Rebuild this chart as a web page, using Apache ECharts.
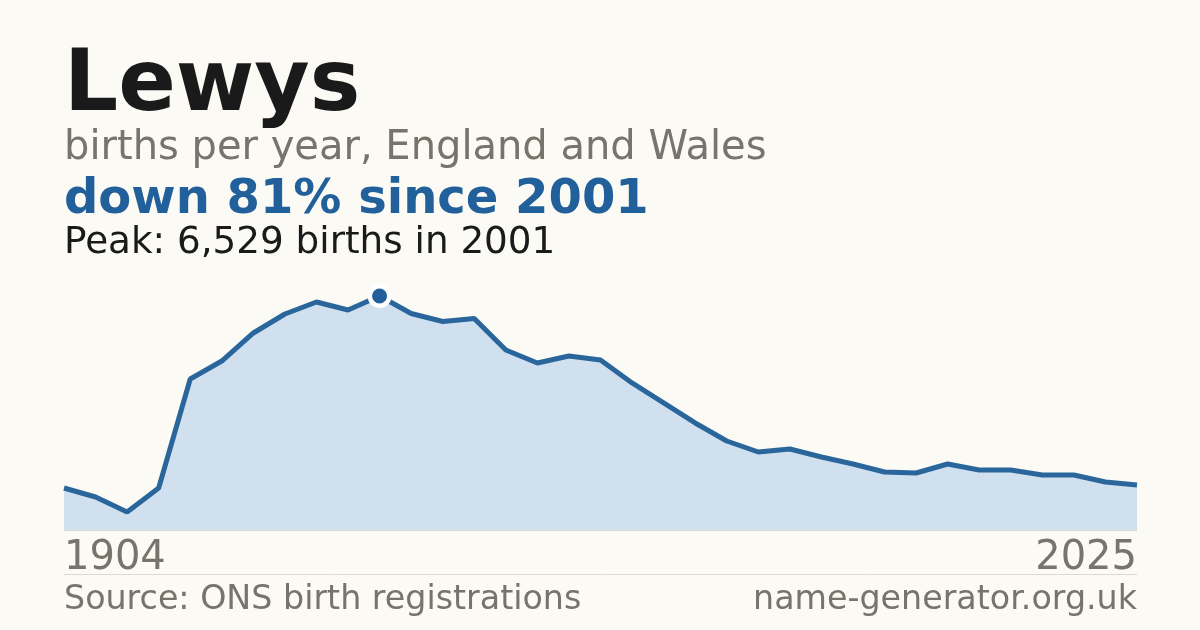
<!DOCTYPE html>
<html>
<head>
  <meta charset="utf-8">
  <title>Lewys</title>
  <script src="https://cdn.jsdelivr.net/npm/echarts@6/dist/echarts.min.js"></script>
  <style>
    html, body { margin: 0; padding: 0; background: #fbfaf5; }
  </style>
</head>
<body>
  <div id="main" style="width: 1200px; height: 630px;"></div>
  <script type="text/javascript">
    // years on the x axis (only first and last are labelled)
    var years = ['1904', '1992', '1993', '1994', '1995', '1996', '1997', '1998', '1999', '2000',
      '2001', '2002', '2003', '2004', '2005', '2006', '2007', '2008', '2009', '2010',
      '2011', '2012', '2013', '2014', '2015', '2016', '2017', '2018', '2019', '2020',
      '2021', '2022', '2023', '2024', '2025'];
    // births per year
    var births = [1172, 921, 502, 1172, 4213, 4715, 5497, 6027, 6362, 6138,
      6529, 6041, 5818, 5901, 5022, 4660, 4855, 4743, 4102, 3544,
      2986, 2483, 2176, 2260, 2037, 1842, 1618, 1590, 1842, 1674,
      1674, 1535, 1535, 1339, 1256];

    var fontFamily = '"DejaVu Sans", sans-serif';
    var grey = '#78736b';
    var blue = '#21609a';

    var myChart = echarts.init(document.getElementById('main'));

    myChart.setOption({
      backgroundColor: '#fbfaf5',
      animation: false,
      textStyle: { fontFamily: fontFamily },
      grid: { left: 64, right: 63, top: 296, bottom: 100 },
      xAxis: {
        type: 'category',
        data: years,
        boundaryGap: false,
        axisLine: { lineStyle: { color: '#dcd9d2', width: 1 } },
        axisTick: { show: false },
        axisLabel: {
          interval: function (index) { return index === 0 || index === years.length - 1; },
          color: grey,
          fontSize: 40,
          fontFamily: fontFamily,
          margin: 9,
          alignMinLabel: 'left',
          alignMaxLabel: 'right'
        }
      },
      yAxis: {
        type: 'value',
        show: false,
        min: 0,
        max: Math.max.apply(null, births),
        splitLine: { show: false }
      },
      series: [{
        type: 'line',
        data: births,
        showSymbol: false,
        lineStyle: { color: '#2a669c', width: 5 },
        areaStyle: { color: '#d0e0ef', opacity: 1 },
        markPoint: {
          silent: true,
          symbol: 'circle',
          symbolSize: 19.5,
          label: { show: false },
          itemStyle: { color: blue, borderColor: '#ffffff', borderWidth: 4.5 },
          data: [{ type: 'max' }]
        }
      }],
      graphic: [
        { type: 'text', left: 64, top: 45, style: { text: 'Lewys', font: 'bold 85px ' + fontFamily, fill: '#1a1a1a' } },
        { type: 'text', left: 64, top: 129, style: { text: 'births per year, England and Wales', font: '40px ' + fontFamily, fill: grey } },
        { type: 'text', left: 64, top: 177, style: { text: 'down 81% since 2001', font: 'bold 48px ' + fontFamily, fill: blue } },
        { type: 'text', left: 64, top: 225, style: { text: 'Peak: 6,529 births in 2001', font: '37.3px ' + fontFamily, fill: '#1a1a1a' } },
        { type: 'line', shape: { x1: 64, y1: 574.5, x2: 1137, y2: 574.5 }, style: { stroke: '#dcd9d2', lineWidth: 1 } },
        { type: 'text', left: 64, top: 584, style: { text: 'Source: ONS birth registrations', font: '33.3px ' + fontFamily, fill: grey } },
        { type: 'text', right: 63, top: 584, style: { text: 'name-generator.org.uk', font: '33.3px ' + fontFamily, fill: grey } }
      ]
    });
  </script>
</body>
</html>
